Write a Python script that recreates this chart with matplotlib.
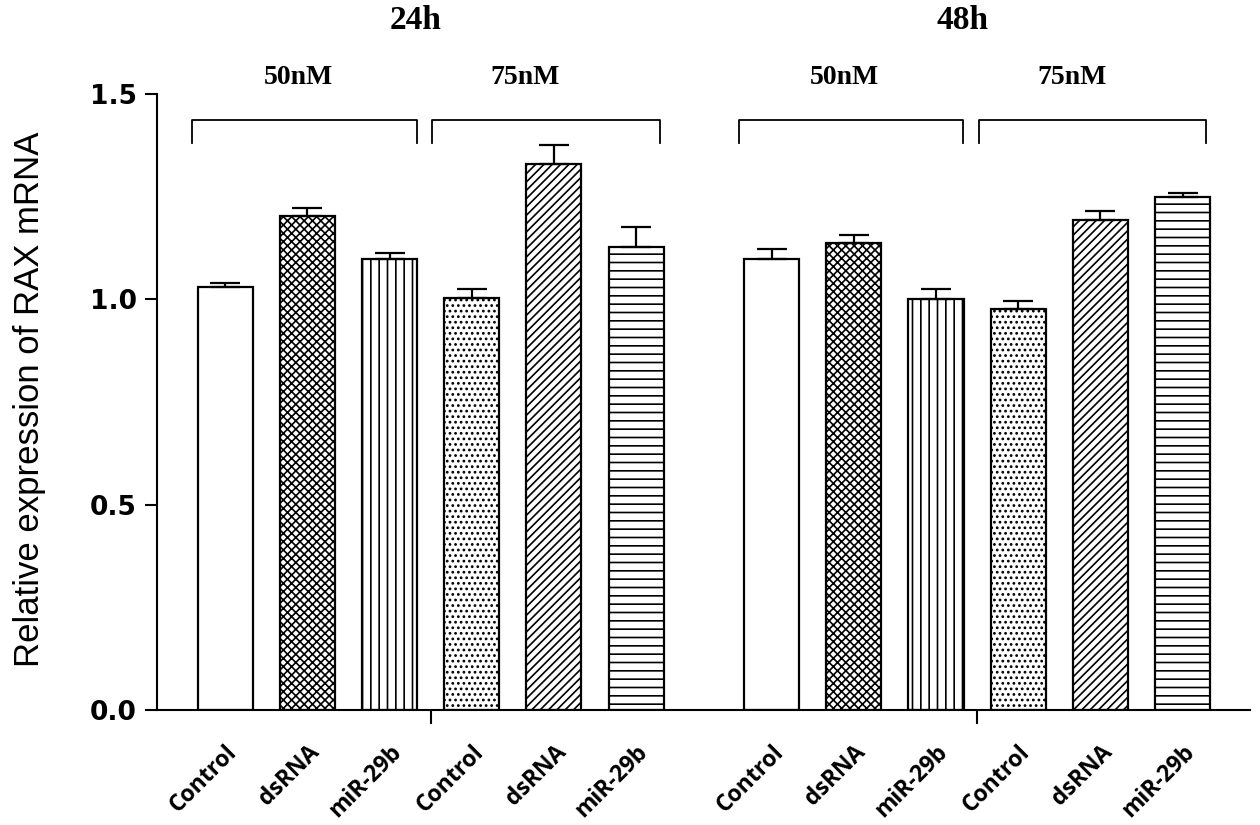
import numpy as np
import matplotlib.pyplot as plt
from matplotlib import rcParams

rcParams['hatch.linewidth'] = 1.2

# data
times = ['24h', '48h']
concs = ['50nM', '75nM']
treatments = ['Control', 'dsRNA', 'miR-29b']
vals_24h = [1.03, 1.203, 1.098, 1.003, 1.329, 1.127]
err_24h = [0.010, 0.019, 0.015, 0.022, 0.047, 0.049]
vals_48h = [1.098, 1.137, 1.000, 0.976, 1.193, 1.249]
err_48h = [0.024, 0.020, 0.025, 0.020, 0.022, 0.010]
hatches = ['', 'xxxx', '||', '...', '////', '--']

offsets = [0.0, 6.65]
width = 0.67

fig = plt.figure(figsize=(12.6, 8.25), dpi=100)
ax = fig.add_axes([0.1246, 0.1394, 0.8674, 0.7467])

xs = []
for off, vals, errs in zip(offsets, [vals_24h, vals_48h], [err_24h, err_48h]):
    x = off + np.arange(6)
    xs.extend(x)
    for xi, v, h in zip(x, vals, hatches):
        ax.bar(xi, v, width, color='white', edgecolor='black', hatch=h, linewidth=1.6)
    ax.errorbar(x, vals, yerr=[np.zeros(6), errs], fmt='none', ecolor='black',
                elinewidth=1.6, capsize=11, capthick=1.6)

ax.set_xlim(-0.83, 12.47)
ax.set_ylim(0, 1.5)
ax.set_yticks([0.0, 0.5, 1.0, 1.5])
ax.set_yticklabels(['0.0', '0.5', '1.0', '1.5'], fontsize=19, fontweight='bold',
                   family='DejaVu Sans')
ax.set_ylabel('Relative expression of RAX mRNA', fontsize=25, family='Liberation Sans',
              ha='center', va='center')
ax.yaxis.set_label_coords(-0.117, 0.505)

ax.set_xticks(xs)
ax.set_xticklabels(treatments * 4, rotation=45, ha='right', rotation_mode='anchor',
                   fontsize=16.5, fontweight='bold', family='Open Sans')
ax.tick_params(axis='x', which='major', length=0, pad=22)
ax.set_xticks([off + 2.5 for off in offsets], minor=True)
ax.tick_params(axis='x', which='minor', length=10, width=1.5)
ax.tick_params(axis='y', length=8.6, width=1.5, pad=6)

for s in ['top', 'right']:
    ax.spines[s].set_visible(False)
for s in ['left', 'bottom']:
    ax.spines[s].set_linewidth(1.5)

# brackets and group labels
for off, t in zip(offsets, times):
    for (a, b), c, lx in zip([(-0.4, 2.33), (2.52, 5.29)], concs, [0.89, 3.65]):
        ax.plot([off + a, off + a, off + b, off + b], [1.381, 1.437, 1.437, 1.381],
                color='black', lw=1.3, clip_on=False)
        ax.text(off + lx, 1.54, c, ha='center', va='center',
                fontsize=20, fontweight='bold', family='Liberation Serif')
    ax.text(off + 2.32, 1.678, t, ha='center', va='center', fontsize=24,
            fontweight='bold', family='Liberation Serif', clip_on=False)

fig.savefig('out.png', dpi=100)
